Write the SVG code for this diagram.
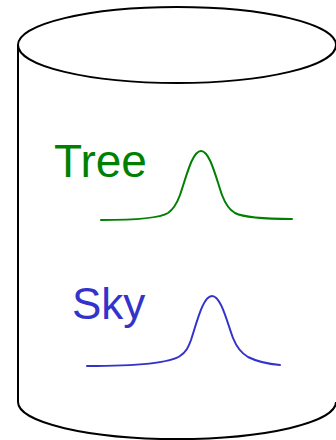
<svg xmlns="http://www.w3.org/2000/svg" width="336" height="440" viewBox="0 0 336 440">
<style>
.outline{fill:none;stroke:#000;stroke-width:2}
.lbl{font-family:"Liberation Sans",Arial,sans-serif}
.tree{fill:#008000}
.sky{fill:#3333cc}
.curve{fill:none;stroke-width:2;stroke-linecap:round}
</style>
<rect width="336" height="440" fill="#fff"/>
<g id="cylinder">
<path class="outline" d="M18,45 L18,402 A159,37 0 0 0 336,402"/>
<ellipse class="outline" cx="177" cy="45" rx="159" ry="38"/>
</g>
<g id="tree">
<text class="lbl tree" x="54" y="177" font-size="46">Tree</text>
<path class="curve" stroke="#008000" d="M101,220 C135,220 160,218 168,213 C174,209 177,203 180,195 C186,178 192,151 201,151 C210,151 216,178 222,195 C225,203 228,209 235,213 C245,218 270,219 292,219"/>
</g>
<g id="sky">
<text class="lbl sky" x="72" y="319" font-size="44">Sky</text>
<path class="curve" stroke="#3333cc" d="M87,366 C130,366 168,364 180,356 C186,352 188,348 191,340 C197,322 203,296 212,296 C221,296 227,322 233,338 C237,348 241,353 248,357 C258,362 268,364 280,365"/>
</g>
</svg>
